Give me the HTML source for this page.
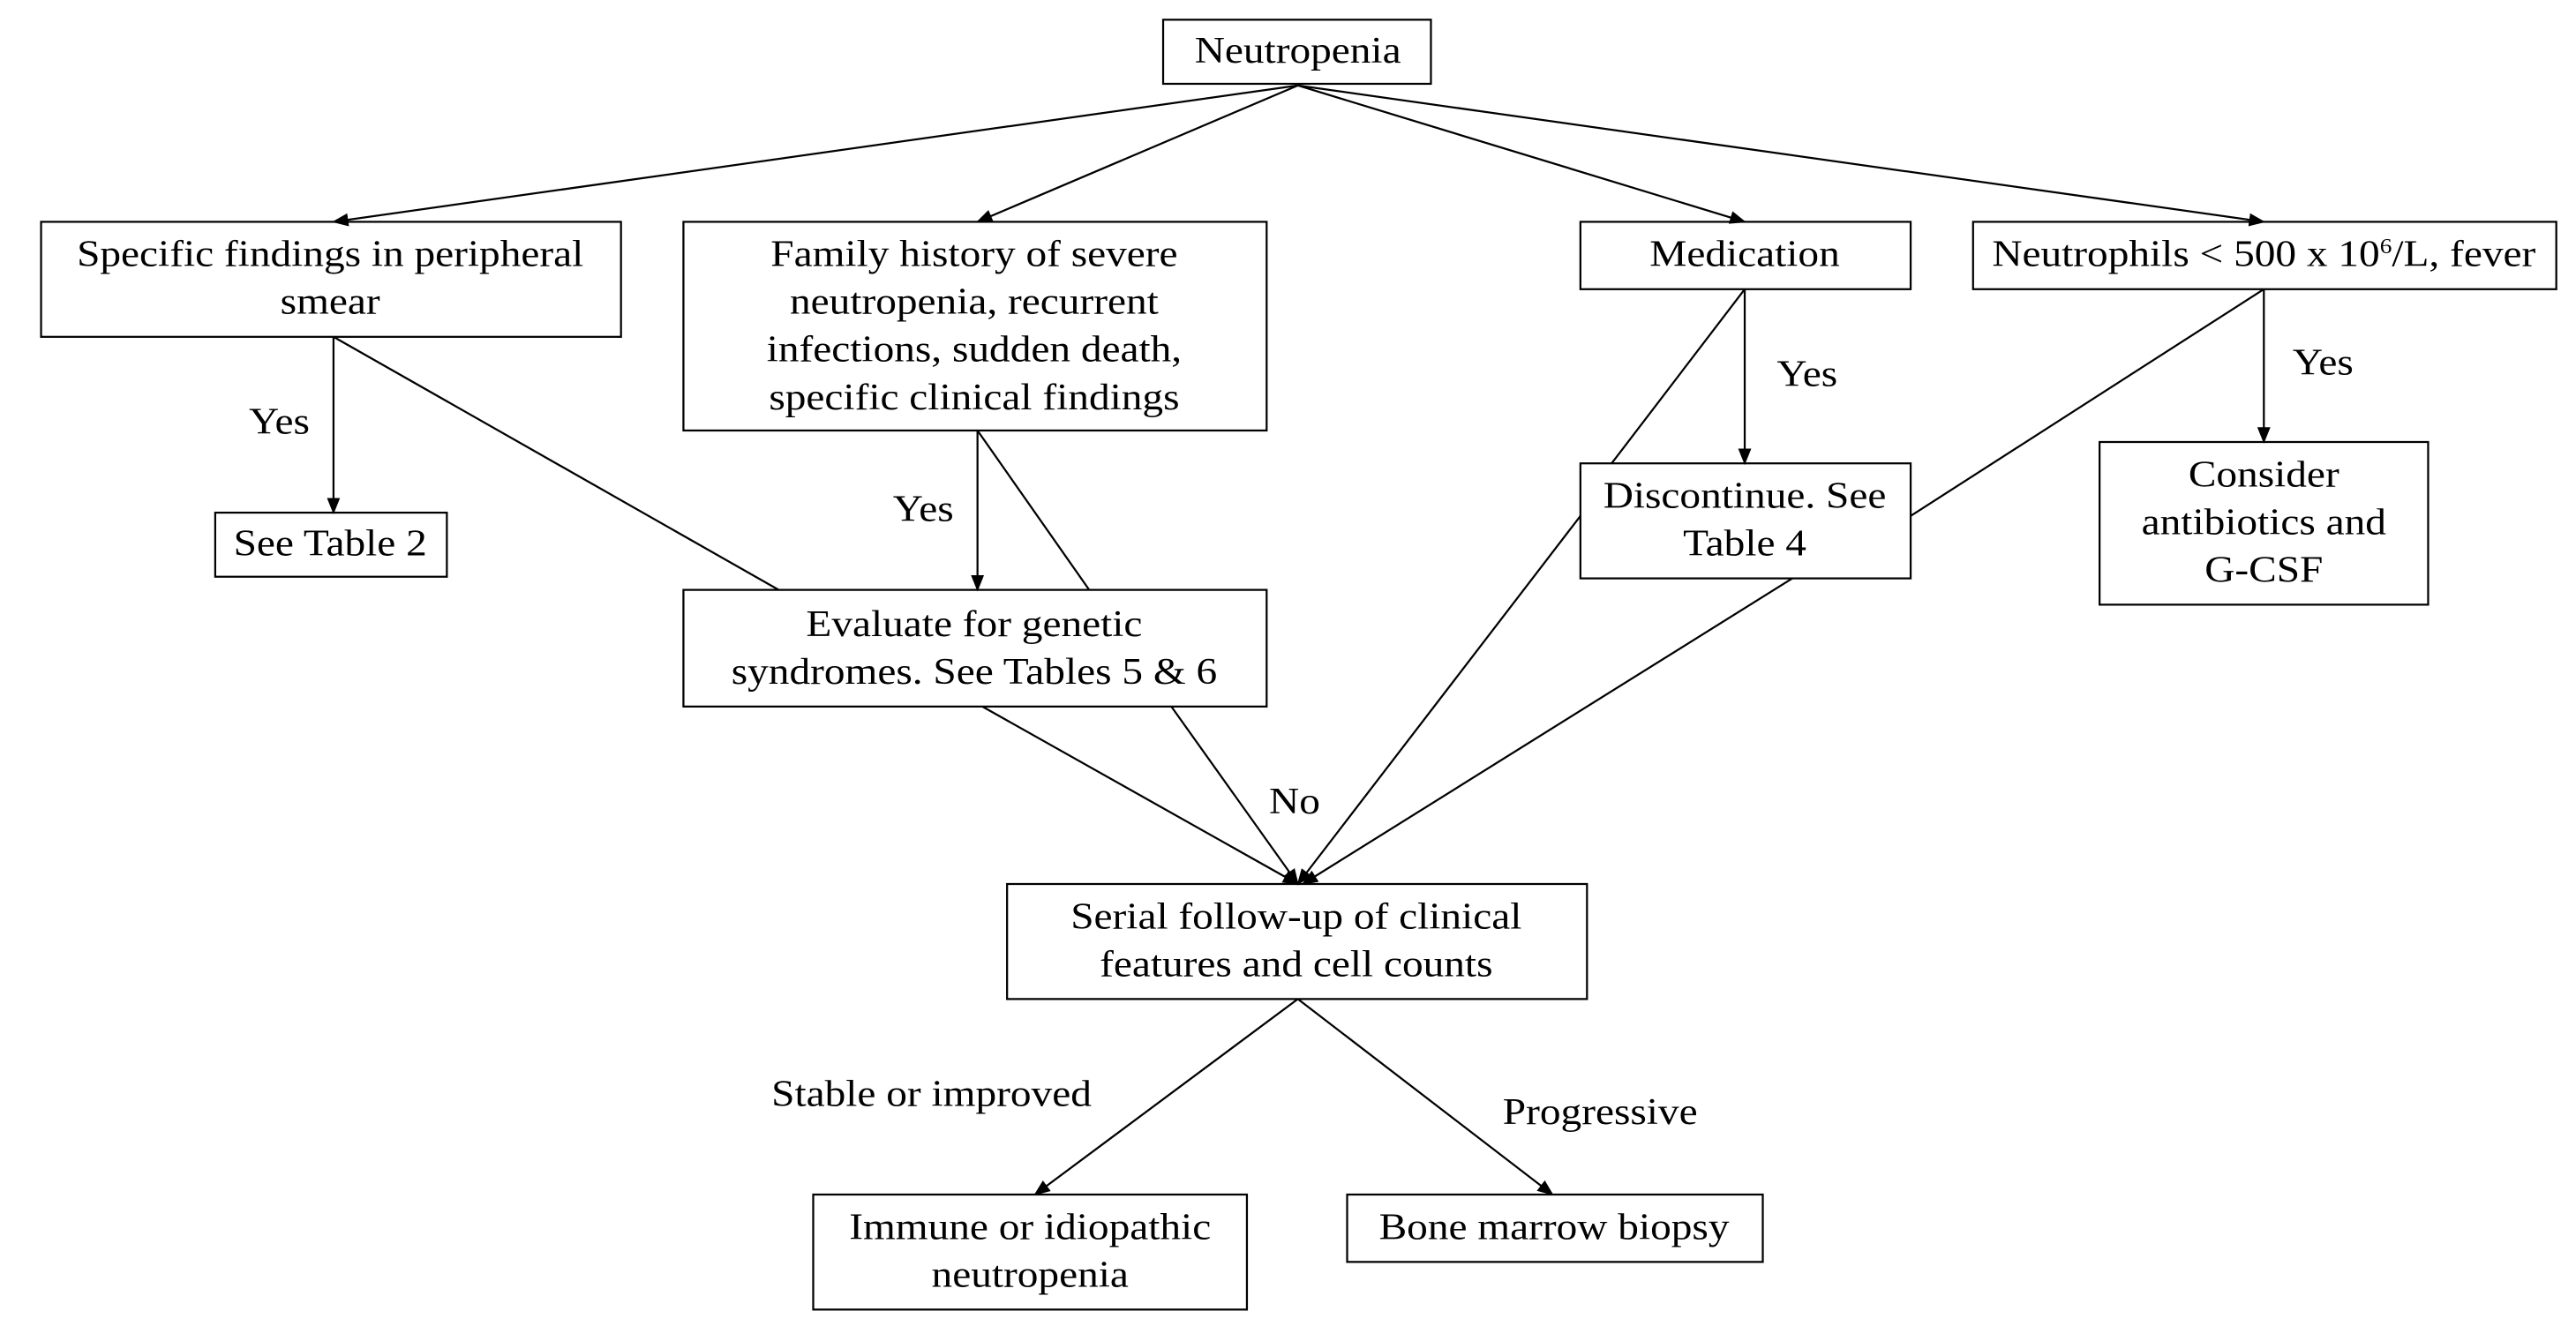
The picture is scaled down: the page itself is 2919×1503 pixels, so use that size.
<!DOCTYPE html>
<html><head><meta charset="utf-8"><style>
html,body{margin:0;padding:0;background:#fff;width:2919px;height:1503px;overflow:hidden}
svg{display:block}
text{font-family:"Liberation Serif",serif;font-size:22.5px;fill:#000;text-anchor:middle;transform-box:fill-box;transform-origin:center;transform:scaleX(1.13)}
</style></head><body>
<svg width="2919" height="1503" viewBox="0 0 1568 807" preserveAspectRatio="none">
<defs><marker id="a" markerWidth="10" markerHeight="10" refX="9" refY="5" orient="auto" markerUnits="userSpaceOnUse"><path d="M0,1 L10,5 L0,9 z" fill="#000"/></marker></defs>
<g fill="none" stroke="#000" stroke-width="1.2">
<rect x="708" y="12" width="163" height="39"/>
<rect x="25" y="135" width="353" height="70"/>
<rect x="416" y="135" width="355" height="127"/>
<rect x="962" y="135" width="201" height="41"/>
<rect x="1201" y="135" width="355" height="41"/>
<rect x="131" y="312" width="141" height="39"/>
<rect x="416" y="359" width="355" height="71"/>
<rect x="962" y="282" width="201" height="70"/>
<rect x="1278" y="269" width="200" height="99"/>
<rect x="613" y="538" width="353" height="70"/>
<rect x="495" y="727" width="264" height="70"/>
<rect x="820" y="727" width="253" height="41"/>
<g marker-end="url(#a)">
<line x1="790" y1="52" x2="203" y2="135"/>
<line x1="790" y1="52" x2="595" y2="135"/>
<line x1="790" y1="52" x2="1062" y2="135"/>
<line x1="790" y1="52" x2="1378" y2="135"/>
<line x1="203" y1="205" x2="203" y2="312"/>
<line x1="595" y1="262" x2="595" y2="359"/>
<line x1="598" y1="430" x2="790" y2="538"/>
<line x1="713" y1="430" x2="790" y2="538"/>
<line x1="1062" y1="176" x2="1062" y2="282"/>
<line x1="1378" y1="176" x2="1378" y2="269"/>
<line x1="962" y1="314" x2="790" y2="538"/>
<line x1="1091" y1="352" x2="793" y2="538"/>
<line x1="790" y1="608" x2="630" y2="727"/>
<line x1="790" y1="608" x2="945" y2="727"/>
</g>
<line x1="203" y1="205" x2="474" y2="359"/>
<line x1="595" y1="262" x2="663" y2="359"/>
<line x1="1062" y1="176" x2="981" y2="282"/>
<line x1="1378" y1="176" x2="1163" y2="314"/>
</g>
<text x="790" y="38">Neutropenia</text>
<text x="201" y="162">Specific findings in peripheral</text>
<text x="201" y="191">smear</text>
<text x="593" y="162">Family history of severe</text>
<text x="593" y="191">neutropenia, recurrent</text>
<text x="593" y="220">infections, sudden death,</text>
<text x="593" y="249">specific clinical  findings</text>
<text x="1062" y="162">Medication</text>
<text x="1378" y="162">Neutrophils &lt; 500 x 10<tspan font-size="13" dy="-8">6</tspan><tspan dy="8">/L, fever</tspan></text>
<text x="201" y="338">See Table 2</text>
<text x="593" y="387">Evaluate for genetic</text>
<text x="593" y="416">syndromes. See Tables 5 &amp; 6</text>
<text x="1062" y="309">Discontinue. See</text>
<text x="1062" y="338">Table 4</text>
<text x="1378" y="296">Consider</text>
<text x="1378" y="325">antibiotics and</text>
<text x="1378" y="354">G-CSF</text>
<text x="789" y="565">Serial follow-up of clinical</text>
<text x="789" y="594">features and cell counts</text>
<text x="627" y="754">Immune or idiopathic</text>
<text x="627" y="783">neutropenia</text>
<text x="946" y="754">Bone marrow biopsy</text>
<text x="170" y="264">Yes</text>
<text x="562" y="317">Yes</text>
<text x="1100" y="235">Yes</text>
<text x="1414" y="228">Yes</text>
<text x="788" y="495">No</text>
<text x="567" y="673">Stable or improved</text>
<text x="974" y="684">Progressive</text>
</svg>
</body></html>
